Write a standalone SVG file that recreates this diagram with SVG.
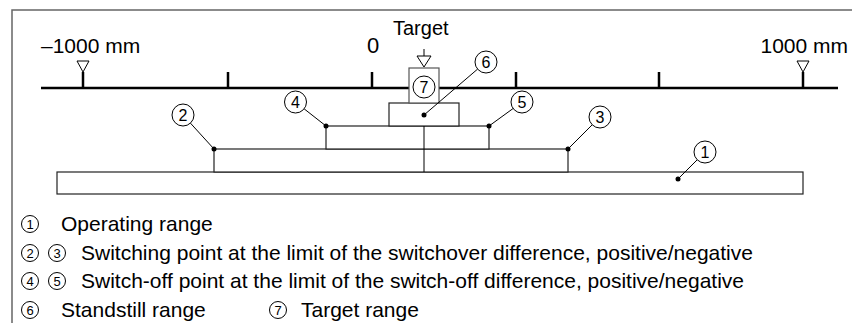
<svg xmlns="http://www.w3.org/2000/svg" width="852" height="323" viewBox="0 0 852 323">
<style>
text{font-family:"Liberation Sans",Arial,sans-serif;fill:#000}
.lbl{font-size:21px}
.box{fill:#fff;stroke:#222;stroke-width:1.2}
.callout circle{fill:#fff;stroke:#000;stroke-width:1}
.callout text{font-size:16px;text-anchor:middle}
.leg circle{fill:#fff;stroke:#000;stroke-width:1}
.leg text.n{font-size:13px;text-anchor:middle}
.lead{stroke:#000;stroke-width:1;fill:none}
.dot{fill:#000}
.tick{stroke:#000;stroke-width:2.5}
.tri{fill:#fff;stroke:#000;stroke-width:1}
</style>
<rect width="852" height="323" fill="#fff"/>
<!-- frame -->
<path d="M12,323 V10 H852" fill="none" stroke="#666" stroke-width="1.5"/>
<!-- scale -->
<g id="scale">
<line x1="41" y1="88" x2="838" y2="88" class="tick"/>
<line x1="83" y1="72" x2="83" y2="88" class="tick"/>
<line x1="228" y1="72" x2="228" y2="88" class="tick"/>
<line x1="372" y1="72" x2="372" y2="88" class="tick"/>
<line x1="516" y1="72" x2="516" y2="88" class="tick"/>
<line x1="659" y1="72" x2="659" y2="88" class="tick"/>
<line x1="803" y1="72" x2="803" y2="88" class="tick"/>
<polygon points="77,61 89,61 83,72" class="tri"/>
<polygon points="797,61 809,61 803,72" class="tri"/>
<text x="41" y="53" class="lbl">–1000 mm</text>
<text x="848" y="53" class="lbl" text-anchor="end">1000 mm</text>
<text x="367" y="53" style="font-size:22px">0</text>
<text x="393" y="35" style="font-size:20px">Target</text>
<line x1="424" y1="49" x2="424" y2="56" stroke="#000" stroke-width="1"/>
<polygon points="417,56 431,56 424,67" class="tri"/>
</g>
<!-- ranges -->
<g id="n1"><rect x="57" y="172" width="746" height="22" class="box"/></g>
<g id="n2-3"><rect x="214" y="149" width="354" height="23" class="box"/></g>
<g id="n4-5"><rect x="326" y="126" width="163" height="23" class="box"/></g>
<g id="n6"><rect x="389" y="103" width="70" height="23" class="box"/></g>
<g id="n7"><rect x="409" y="68" width="30" height="35" fill="#fff" stroke="#555" stroke-width="1.2"/></g>
<g id="connectors">
<line x1="424" y1="126" x2="424" y2="172" class="lead"/>
<line x1="678" y1="179" x2="697.2" y2="159.8" class="lead"/>
<line x1="214" y1="149" x2="190.4" y2="123.1" class="lead"/>
<line x1="568" y1="149" x2="592.2" y2="124.8" class="lead"/>
<line x1="326" y1="126" x2="304.1" y2="108.8" class="lead"/>
<line x1="489" y1="126" x2="513.1" y2="108.5" class="lead"/>
<line x1="424" y1="115" x2="477.6" y2="69.1" class="lead"/>
<circle cx="678" cy="179" r="2.5" class="dot"/>
<circle cx="214" cy="149" r="2.5" class="dot"/>
<circle cx="568" cy="149" r="2.5" class="dot"/>
<circle cx="326" cy="126" r="2.5" class="dot"/>
<circle cx="489" cy="126" r="2.5" class="dot"/>
<circle cx="424" cy="115" r="2.5" class="dot"/>
</g>
<g class="callout">
<g id="c1"><circle cx="705" cy="152" r="11"/><text x="705" y="158">1</text></g>
<g id="c2"><circle cx="183" cy="115" r="11"/><text x="183" y="121">2</text></g>
<g id="c3"><circle cx="600" cy="117" r="11"/><text x="600" y="123">3</text></g>
<g id="c4"><circle cx="295.5" cy="102" r="11"/><text x="295.5" y="108">4</text></g>
<g id="c5"><circle cx="522" cy="102" r="11"/><text x="522" y="108">5</text></g>
<g id="c6"><circle cx="486" cy="62" r="11"/><text x="486" y="68">6</text></g>
<g id="c7"><circle cx="424" cy="87" r="11"/><text x="424" y="93">7</text></g>
</g>
<!-- legend -->
<g class="leg" id="legend">
<circle cx="30" cy="224" r="8.5"/><text class="n" x="30" y="229">1</text>
<text x="61" y="231" class="lbl">Operating range</text>
<circle cx="30" cy="253" r="8.5"/><text class="n" x="30" y="258">2</text>
<circle cx="57" cy="253" r="8.5"/><text class="n" x="57" y="258">3</text>
<text x="81" y="260" class="lbl">Switching point at the limit of the switchover difference, positive/negative</text>
<circle cx="30" cy="281" r="8.5"/><text class="n" x="30" y="286">4</text>
<circle cx="57" cy="281" r="8.5"/><text class="n" x="57" y="286">5</text>
<text x="81" y="288" class="lbl">Switch-off point at the limit of the switch-off difference, positive/negative</text>
<circle cx="30" cy="310" r="8.5"/><text class="n" x="30" y="315">6</text>
<text x="61" y="317" class="lbl">Standstill range</text>
<circle cx="278" cy="310" r="8.5"/><text class="n" x="278" y="315">7</text>
<text x="301" y="317" class="lbl">Target range</text>
</g>
</svg>
